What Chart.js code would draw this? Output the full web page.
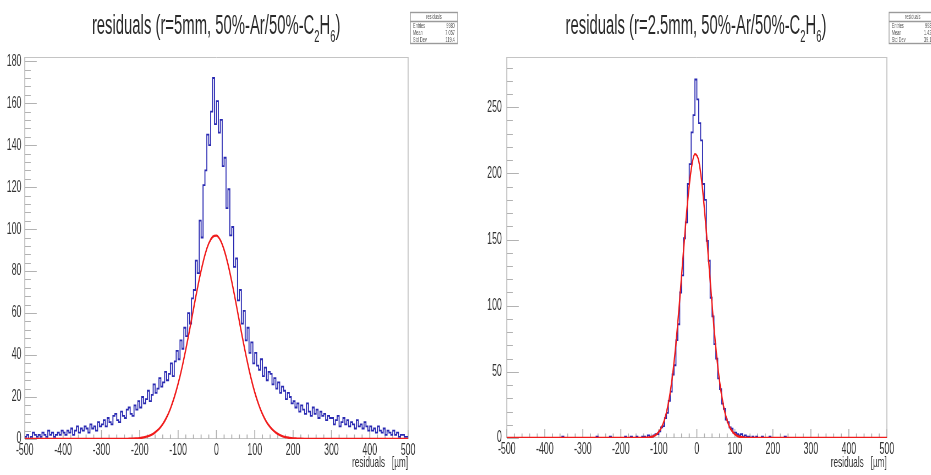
<!DOCTYPE html>
<html lang="en">

<head>
    <meta charset="UTF-8">
    <title>residuals</title>
    <style>
        html, body { margin: 0; padding: 0; background: #fff; }
        body { width: 931px; height: 475px; position: relative; overflow: hidden; }
        .pad { position: absolute; top: 0; height: 475px; overflow: hidden; }
        /* the pads are drawn wide and squeezed horizontally, like the narrow ROOT canvas */
        .squash { position: absolute; left: 0; top: 0; height: 475px; transform: scaleX(0.55); transform-origin: 0 0; }
        .squash canvas { position: absolute; left: 0; top: 0; }
        .title { position: absolute; top: 10px; transform: translateX(-50%); white-space: nowrap;
                 font: 27px 'Liberation Sans', Arial, sans-serif; color: #2a2a2a; line-height: 30px; }
        .title sub { font-size: 17px; vertical-align: -8px; line-height: 0; }
    </style>
</head>

<body>
    <div class="pad" style="left:0;width:465px">
        <div class="squash" style="width:846px">
            <canvas id="r5" width="846" height="475"></canvas>
            <div class="title" style="left:393px">residuals (r=5mm, 50%-Ar/50%-C<sub>2</sub>H<sub>6</sub>)</div>
        </div>
    </div>
    <div class="pad" style="left:465px;width:466px">
        <div class="squash" style="width:847px">
            <canvas id="r25" width="847" height="475"></canvas>
            <div class="title" style="left:420px">residuals (r=2.5mm, 50%-Ar/50%-C<sub>2</sub>H<sub>6</sub>)</div>
        </div>
    </div>

    <script src="https://cdn.jsdelivr.net/npm/chart.js"></script>
    <script>
        // histogram binning, in µm
        const binLow = -500;
        const binWidth = 5;

        // r = 5 mm : entries per bin (200 bins, -500..500)
        const countsR5 = [
            1, 2, 0, 1, 3, 2, 1, 2, 1, 3, 2, 1, 4, 2, 3, 1, 2, 3, 2, 4,
            3, 2, 4, 3, 5, 2, 4, 6, 3, 5, 4, 6, 5, 3, 7, 5, 6, 4, 8, 6,
            7, 9, 6, 10, 8, 7, 11, 12, 9, 8, 13, 11, 10, 14, 15, 12, 11, 16, 14, 18,
            15, 20, 17, 19, 23, 18, 21, 26, 22, 24, 29, 25, 27, 32, 28, 31, 36, 30, 37, 42,
            38, 47, 43, 53, 49, 60, 55, 67, 71, 85, 79, 104, 96, 121, 128, 145, 140, 156, 172, 150,
            161, 146, 152, 130, 134, 110, 119, 97, 101, 82, 86, 66, 71, 55, 61, 47, 53, 41, 46, 36,
            41, 35, 33, 38, 30, 34, 28, 32, 31, 26, 29, 24, 27, 22, 25, 23, 19, 22, 20, 17,
            18, 15, 17, 13, 16, 14, 12, 17, 13, 11, 15, 12, 14, 10, 13, 11, 12, 9, 11, 10,
            10, 7, 9, 11, 6, 8, 10, 7, 9, 6, 8, 7, 5, 9, 6, 7, 5, 8, 6, 4,
            6, 4, 5, 3, 6, 4, 3, 5, 2, 4, 3, 2, 4, 2, 3, 1, 2, 2, 1, 1
        ];
        // gaussian fit, sampled
        const fitXR5 = [-500, -250, -240, -230, -220, -210, -200, -190, -180, -170, -160, -150, -140, -130, -120, -110,
            -100, -90, -80, -70, -60, -50, -40, -30, -20, -10, 0, 10, 20, 30, 40, 50, 60, 70, 80, 90,
            100, 110, 120, 130, 140, 150, 160, 170, 180, 190, 200, 210, 220, 230, 240, 250, 500];
        const fitYR5 = [0, 0.02, 0.04, 0.08, 0.14, 0.25, 0.44, 0.75, 1.25, 2.0, 3.2, 4.8, 7.1, 10.3, 14.5, 19.8,
            26.3, 33.9, 42.6, 52.0, 61.8, 71.4, 80.2, 87.7, 93.2, 96.3, 96.9, 94.8, 90.1, 83.4, 75.0, 65.7, 55.9, 46.3, 37.3, 29.2,
            22.2, 16.5, 11.9, 8.3, 5.7, 3.8, 2.4, 1.5, 0.9, 0.55, 0.3, 0.18, 0.09, 0.04, 0.02, 0, 0];

        // r = 2.5 mm
        const countsR25 = [
            0, 0, 0, 0, 0, 0, 0, 0, 0, 0, 0, 0, 0, 0, 0, 0, 0, 0, 0, 0,
            0, 0, 0, 0, 0, 0, 0, 0, 0, 1, 0, 0, 0, 0, 0, 0, 0, 0, 0, 0,
            0, 0, 0, 0, 0, 0, 0, 1, 0, 0, 0, 0, 0, 0, 1, 0, 0, 0, 0, 0,
            0, 0, 1, 0, 0, 1, 0, 0, 1, 0, 0, 1, 1, 0, 2, 1, 1, 2, 3, 3,
            5, 8, 9, 15, 19, 28, 35, 48, 55, 74, 86, 110, 123, 151, 163, 192, 207, 231, 244, 271,
            256, 238, 225, 192, 180, 149, 134, 106, 92, 71, 60, 45, 37, 26, 22, 14, 12, 8, 7, 4,
            4, 3, 2, 3, 1, 2, 1, 1, 0, 1, 0, 1, 0, 0, 1, 0, 0, 0, 1, 0,
            0, 0, 0, 0, 0, 0, 1, 0, 0, 0, 0, 0, 0, 0, 0, 0, 0, 0, 0, 0,
            0, 0, 0, 0, 0, 0, 0, 0, 0, 0, 0, 0, 0, 0, 0, 0, 0, 0, 0, 0,
            0, 0, 0, 0, 0, 0, 0, 0, 0, 0, 0, 0, 0, 0, 0, 0, 0, 0, 0, 0
        ];
        const fitXR25 = [-500, -155, -145, -135, -125, -115, -105, -95, -85, -75, -65, -55, -45, -35, -25, -15,
            -5, 5, 15, 25, 35, 45, 55, 65, 75, 85, 95, 105, 115, 125, 135, 145, 500];
        const fitYR25 = [0, 0.02, 0.06, 0.18, 0.49, 1.28, 3.07, 6.8, 13.8, 25.9, 44.8, 71.3, 104.7, 141.6, 176.4, 202.7,
            214.6, 209.5, 188.3, 156.1, 119.3, 83.9, 54.5, 32.6, 17.9, 9.1, 4.27, 1.84, 0.73, 0.27, 0.09, 0.03, 0];

        const xTicks = [-500, -400, -300, -200, -100, 0, 100, 200, 300, 400, 500];
        const yTicksR5 = [0, 20, 40, 60, 80, 100, 120, 140, 160, 180];
        const yTicksR25 = [0, 50, 100, 150, 200, 250];

        const statLabels = ['Entries', 'Mean', 'Std Dev'];
        const statsR5 = ['9980', '7.057', '119.4'];
        const statsR25 = ['9980', '1.425', '39.19'];

        const SQUASH = 0.55;
        const FONT = "'Liberation Sans', Arial, sans-serif";

        // ROOT-like frame: grey box, ticks pointing inwards, stat box at the top right
        const rootFrame = {
            id: 'rootFrame',
            beforeDatasetsDraw(chart, args, o) {
                const { ctx, chartArea: a } = chart;
                const x = chart.scales.x, y = chart.scales.y;
                ctx.save();
                ctx.strokeStyle = '#c4c4c4';
                ctx.lineWidth = 1;
                ctx.beginPath();
                ctx.moveTo(a.left, a.top + 0.5); ctx.lineTo(a.right, a.top + 0.5);
                ctx.moveTo(a.left, a.bottom - 0.5); ctx.lineTo(a.right, a.bottom - 0.5);
                ctx.stroke();
                ctx.lineWidth = 1 / SQUASH;
                ctx.beginPath();
                ctx.moveTo(a.left, a.top); ctx.lineTo(a.left, a.bottom);
                ctx.moveTo(a.right, a.top); ctx.lineTo(a.right, a.bottom);
                ctx.stroke();

                ctx.strokeStyle = '#b2b2b2';
                ctx.beginPath();
                for (let v = x.min, i = 0; v <= x.max + 1e-6; v += o.xMinor, i++) {
                    const px = x.getPixelForValue(v);
                    const len = i % 5 === 0 ? 9 : 4.5;
                    ctx.moveTo(px, a.bottom); ctx.lineTo(px, a.bottom - len);
                }
                ctx.stroke();
                ctx.lineWidth = 1;
                ctx.beginPath();
                for (let v = 0, i = 0; v <= y.max + 1e-6; v += o.yMinor, i++) {
                    const py = Math.round(y.getPixelForValue(v)) + 0.5;
                    const len = (i % 5 === 0 ? 12 : 6) / SQUASH;
                    ctx.moveTo(a.left, py); ctx.lineTo(a.left + len, py);
                }
                ctx.stroke();
                ctx.restore();
            },
            afterDraw(chart, args, o) {
                const { ctx, chartArea: a } = chart;
                const bx = a.right + 4, by = 12, bw = 86, bh = 31;
                ctx.save();
                ctx.fillStyle = '#fff';
                ctx.fillRect(bx, by, bw, bh);
                ctx.strokeStyle = '#9a9a9a';
                ctx.lineWidth = 1.4;
                ctx.strokeRect(bx, by + 0.5, bw, bh);
                ctx.beginPath();
                ctx.moveTo(bx, by + 9.5); ctx.lineTo(bx + bw, by + 9.5);
                ctx.stroke();
                ctx.fillStyle = '#555';
                ctx.font = '7px ' + FONT;
                ctx.textBaseline = 'middle';
                ctx.textAlign = 'center';
                ctx.fillText('residuals', bx + bw / 2, by + 5);
                statLabels.forEach((lab, i) => {
                    const ty = by + 14 + i * 7;
                    ctx.textAlign = 'left';
                    ctx.fillText(lab, bx + 5, ty);
                    ctx.textAlign = 'right';
                    ctx.fillText(o.stats[i], bx + bw - 5, ty);
                });
                ctx.restore();
            }
        };

        function drawPad(id, counts, fitX, fitY, yMax, yTicks, yMinor, box, stats) {
            const hist = counts.map((c, i) => ({ x: binLow + binWidth * (i + 0.5), y: c }));
            hist.unshift({ x: binLow, y: counts[0] });
            hist.push({ x: binLow + binWidth * counts.length, y: counts[counts.length - 1] });
            const fit = fitX.map((x, i) => ({ x: x, y: fitY[i] }));

            return new Chart(document.getElementById(id), {
                type: 'line',
                data: {
                    datasets: [
                        { data: fit, borderColor: '#f01c1c', borderWidth: 2.4, pointRadius: 0,
                          cubicInterpolationMode: 'monotone', order: 0 },
                        { data: hist, borderColor: '#2a2ab2', borderWidth: 1.8, pointRadius: 0,
                          stepped: 'middle', order: 1 }
                    ]
                },
                options: {
                    responsive: false,
                    animation: false,
                    devicePixelRatio: 1,
                    layout: { padding: { top: 57, right: box.right, left: 0, bottom: 0 } },
                    plugins: {
                        legend: { display: false },
                        tooltip: { enabled: false },
                        rootFrame: { xMinor: 20, yMinor: yMinor, stats: stats }
                    },
                    scales: {
                        x: {
                            type: 'linear', min: -500, max: 500,
                            afterBuildTicks: s => { s.ticks = xTicks.map(v => ({ value: v })); },
                            afterFit: s => { s.height = box.xh; },
                            grid: { display: false, drawTicks: false },
                            border: { display: false },
                            ticks: { autoSkip: false, maxRotation: 0, padding: 2, color: '#333',
                                     font: { family: FONT, size: 16 } },
                            title: { display: true, text: 'residuals   [µm]', align: 'end', color: '#333',
                                     font: { family: FONT, size: 15 }, padding: { top: 0, bottom: 3 } }
                        },
                        y: {
                            min: 0, max: yMax,
                            afterBuildTicks: s => { s.ticks = yTicks.map(v => ({ value: v })); },
                            afterFit: s => { s.width = box.yw; },
                            grid: { display: false, drawTicks: false },
                            border: { display: false },
                            ticks: { padding: box.yp, color: '#333', font: { family: FONT, size: 16 } }
                        }
                    }
                },
                plugins: [rootFrame]
            });
        }

        drawPad('r5', countsR5, fitXR5, fitYR5, 182, yTicksR5, 4,
            { right: 104, yw: 45, yp: 6, xh: 36 }, statsR5);
        drawPad('r25', countsR25, fitXR25, fitYR25, 288, yTicksR25, 10,
            { right: 80, yw: 76, yp: 9, xh: 37 }, statsR25);
    </script>
</body>

</html>
